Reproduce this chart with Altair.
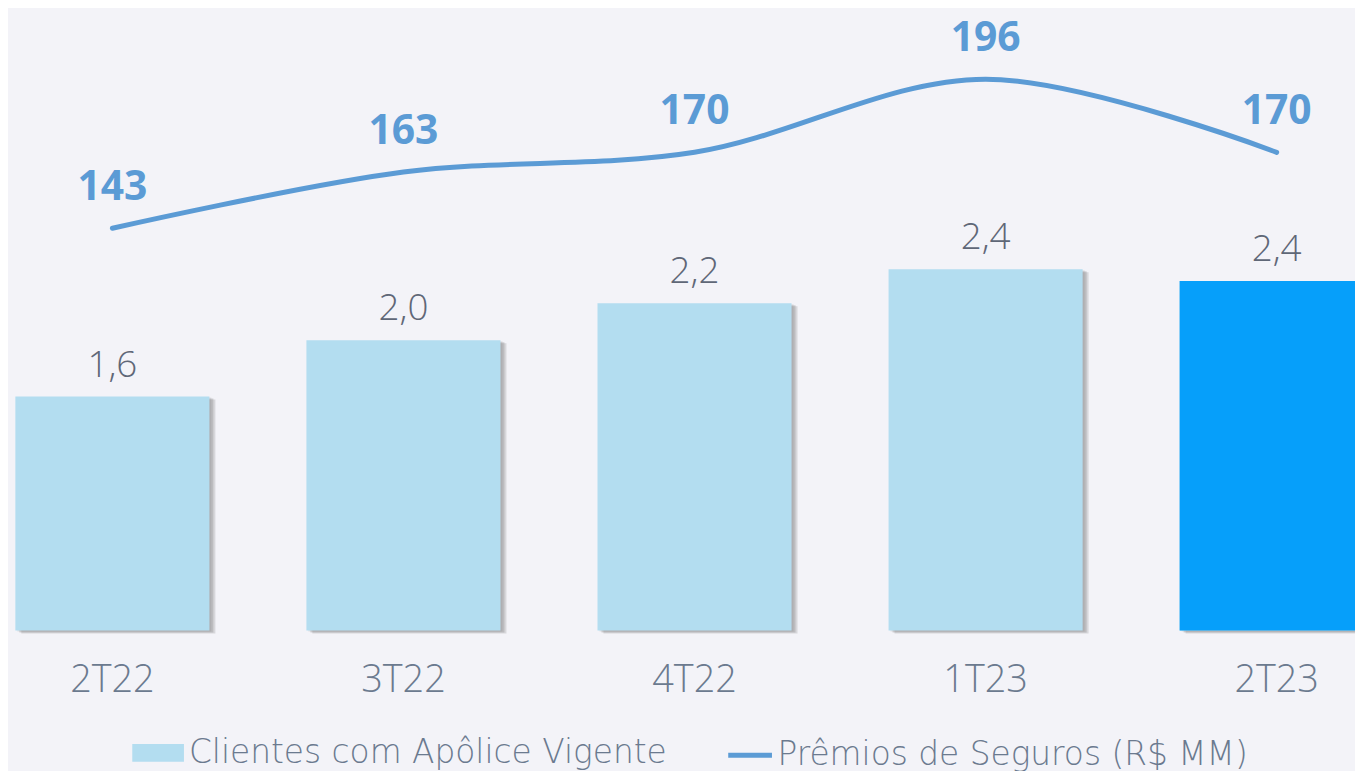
import altair as alt
import pandas as pd

quarters = ["2T22", "3T22", "4T22", "1T23", "2T23"]
clientes = [1.58, 1.96, 2.21, 2.44, 2.36]
premios = [143, 163, 170, 196, 170]
serie_barras = "Clientes com Apôlice Vigente"
serie_linha = "Prêmios de Seguros (R$ MM)"
destaque = "2T23"

df = pd.DataFrame({
    "tri": quarters,
    "clientes": clientes,
    "premios": premios,
    "s_bar": serie_barras,
    "s_line": serie_linha,
})

FONT = "Open Sans"
LEG_FONT = "DejaVu Sans"
BG = "#f3f3f8"
LIGHT = "#b3ddf0"
STRONG = "#069ffa"
LINE = "#5b9bd5"
GREY = "#5f6777"
AXIS_GREY = "#6b7a8f"

x = alt.X(
    "tri:N",
    sort=quarters,
    title=None,
    scale=alt.Scale(range=[-41.4, 1422.6], paddingInner=1 / 3, paddingOuter=1 / 6, round=False),
    axis=alt.Axis(
        domain=False, ticks=False, grid=False, labelAngle=0,
        labelFont=FONT, labelFontSize=38, labelColor=AXIS_GREY,
        labelPadding=31, labelFontWeight=300,
    ),
)
ybar = alt.Y("clientes:Q", scale=alt.Scale(domain=[0, 4.188], nice=False), axis=None, title=None)
yline = alt.Y("premios:Q", scale=alt.Scale(domain=[0, 220.5], nice=False), axis=None, title=None)

base = alt.Chart(df)

shadow1 = base.mark_bar(color="#6a6a6a", opacity=0.15, xOffset=2, yOffset=1).encode(x=x, y=ybar)
shadow2 = base.mark_bar(color="#6a6a6a", opacity=0.25, xOffset=4, yOffset=2).encode(x=x, y=ybar)
shadow3 = base.mark_bar(color="#6a6a6a", opacity=0.2, xOffset=6, yOffset=3).encode(x=x, y=ybar)

bars = base.mark_bar().encode(
    x=x,
    y=ybar,
    fill=alt.Fill(
        "s_bar:N",
        scale=alt.Scale(domain=[serie_barras], range=[LIGHT]),
        legend=alt.Legend(
            title=None, orient="none", legendX=125, legendY=721, padding=0,
            symbolType="M-1,-0.346L1,-0.346L1,0.346L-1,0.346Z", symbolSize=2704,
            symbolStrokeWidth=0, labelFont=LEG_FONT, labelFontSize=33, labelColor=AXIS_GREY,
            labelFontWeight=200, labelLimit=700, labelOffset=5,
        ),
    ),
)
bar_hl = base.mark_bar(color=STRONG).encode(x=x, y=ybar).transform_filter(
    alt.datum.tri == destaque
)
bar_text = base.transform_calculate(
    lbl="replace(format(datum.clientes, '.1f'), '.', ',')"
).mark_text(
    font=FONT, fontSize=37, fontWeight=300, color=GREY, baseline="alphabetic", dy=-20
).encode(x=x, y=ybar, text="lbl:N")

bar_layer = alt.layer(shadow1, shadow2, shadow3, bars, bar_hl, bar_text)

line = base.mark_line(interpolate="catmull-rom", strokeWidth=5, strokeCap="round").encode(
    x=x,
    y=yline,
    stroke=alt.Stroke(
        "s_line:N",
        scale=alt.Scale(domain=[serie_linha], range=[LINE]),
        legend=alt.Legend(
            title=None, orient="none", legendX=722, legendY=725, padding=0,
            symbolType="stroke", symbolSize=1936, symbolStrokeWidth=5,
            labelFont=LEG_FONT, labelFontSize=33, labelColor=AXIS_GREY,
            labelFontWeight=200, labelLimit=700, labelOffset=3,
        ),
    ),
)
line_text = base.mark_text(
    font=FONT, fontSize=41, fontWeight="bold", color=LINE, baseline="alphabetic", dy=-28
).encode(x=x, y=yline, text=alt.Text("premios:Q", format="d"))

line_layer = alt.layer(line, line_text)

chart = alt.layer(bar_layer, line_layer).resolve_scale(y="independent").properties(
    width=1355,
    height=624,
    autosize=alt.AutoSizeParams(type="none"),
    padding={"left": 0, "top": 0, "right": 0, "bottom": 140},
    background=BG,
).configure_view(stroke=None, fill=BG)

chart.save("out.html", embed_options={"renderer": "svg", "actions": False})
